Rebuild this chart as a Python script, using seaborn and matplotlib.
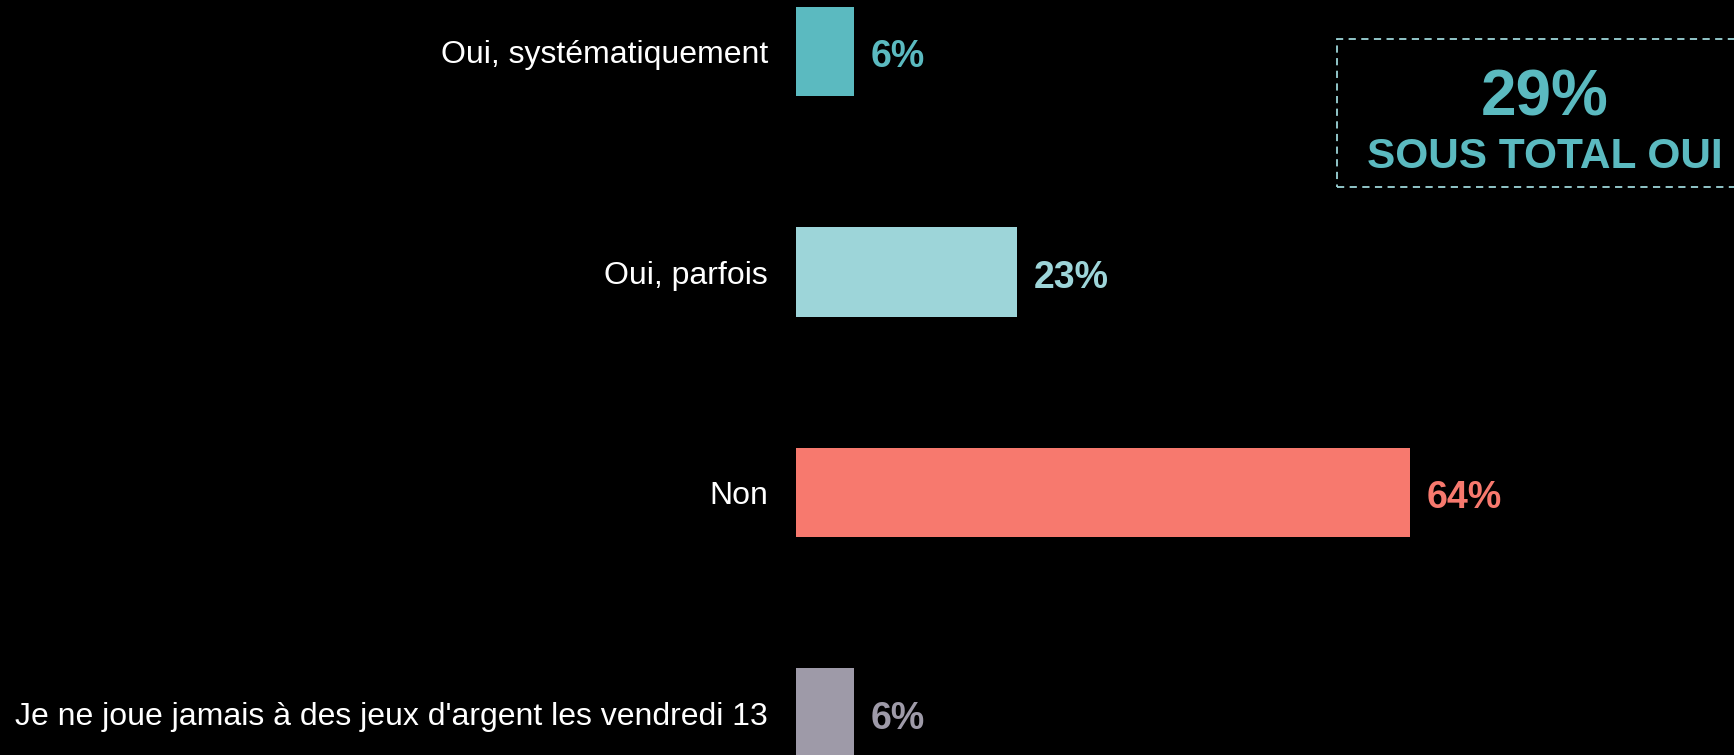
import matplotlib
matplotlib.use("Agg")
import matplotlib.pyplot as plt
import seaborn as sns
import pandas as pd
from matplotlib.patches import Rectangle

# data
categories = [
    "Oui, systématiquement",
    "Oui, parfois",
    "Non",
    "Je ne joue jamais à des jeux d'argent les vendredi 13",
]
values = [6, 23, 64, 6]
bar_colors = ["#5BBAC0", "#9DD5D9", "#F7796E", "#9E9AA8"]
subtotal_value = "29%"
subtotal_label = "SOUS TOTAL OUI"

sns.set_theme(style="white")
plt.rcParams["font.family"] = ["Liberation Sans", "DejaVu Sans"]

df = pd.DataFrame({"cat": categories, "val": values})

fig = plt.figure(figsize=(17.34, 7.55), dpi=100, facecolor="black")
ax = fig.add_axes([796 / 1734, 0, 1 - 796 / 1734, 1])
ax.set_facecolor("black")

sns.barplot(data=df, x="val", y="cat", hue="cat", palette=bar_colors,
            order=categories, hue_order=categories, width=0.404,
            legend=False, ax=ax, saturation=1, linewidth=0, edgecolor="none")

ax.set_xlim(0, (1734 - 796) / 9.6)
ax.set_ylim((755 - 51.5) / 220.5, -51.5 / 220.5)
ax.set_xlabel("")
ax.set_ylabel("")
ax.set_xticks([])
for s in ax.spines.values():
    s.set_visible(False)
ax.tick_params(axis="y", length=0, pad=20, labelsize=23, labelcolor="white")

# value labels next to the bars
for i, (v, c) in enumerate(zip(values, bar_colors)):
    ax.annotate(f"{v}%", xy=(v, i), xytext=(12, -4), textcoords="offset points",
                ha="left", va="center", fontsize=27, fontweight="bold", color=c)

# subtotal box
box = Rectangle((1337 / 1734, 1 - 187 / 755), 420 / 1734, 148 / 755,
                transform=fig.transFigure, fill=False, edgecolor="#9DD5D9",
                linestyle=(0, (4, 3)), linewidth=1.3, clip_on=False)
fig.add_artist(box)
fig.text(1545 / 1734, 1 - 98 / 755, subtotal_value, ha="center", va="center",
         fontsize=46, fontweight="bold", color="#5BBAC0")
fig.text(1545 / 1734, 1 - 157 / 755, subtotal_label, ha="center", va="center",
         fontsize=30.5, fontweight="bold", color="#5BBAC0")

fig.savefig("out.png", dpi=100, facecolor="black")
